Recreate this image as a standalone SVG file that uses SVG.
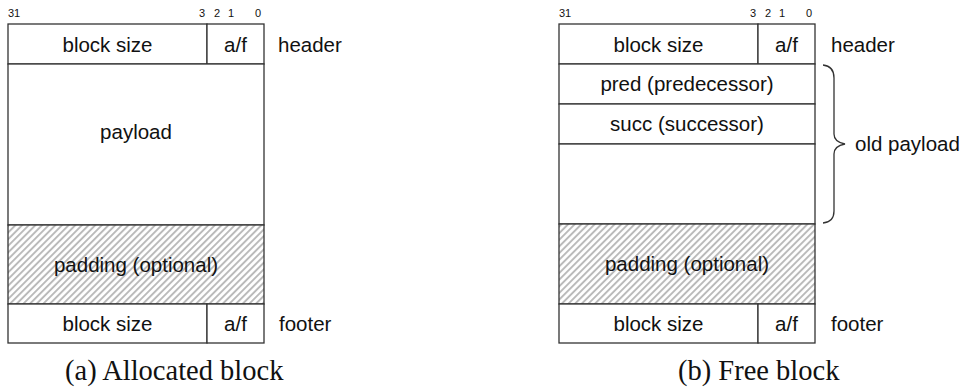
<svg xmlns="http://www.w3.org/2000/svg" width="964" height="389" viewBox="0 0 964 389">
<defs>
<pattern id="hatch" patternUnits="userSpaceOnUse" width="4.7" height="4.7" patternTransform="rotate(45)">
<rect width="4.7" height="4.7" fill="#ffffff"/>
<line x1="1" y1="0" x2="1" y2="4.7" stroke="#b8b8b8" stroke-width="1.9"/>
</pattern>
</defs>
<style>
.box{fill:#ffffff;stroke:#333333;stroke-width:1.3}
.hatch{fill:url(#hatch);stroke:#333333;stroke-width:1.3}
.t{font-family:"Liberation Sans",Arial,sans-serif;font-size:20.5px;fill:#111111;text-anchor:middle}
.l{font-family:"Liberation Sans",Arial,sans-serif;font-size:20.5px;fill:#111111}
.bit{font-family:"Liberation Sans",Arial,sans-serif;font-size:11px;fill:#111111;text-anchor:middle}
.cap{font-family:"Liberation Serif","Times New Roman",serif;font-size:28.5px;fill:#111111}
.brace{fill:none;stroke:#333333;stroke-width:1.3}
</style>
<rect width="964" height="389" fill="#ffffff"/>

<g id="allocated-block">
<g id="a-bits">
<text class="bit" x="14" y="17">31</text>
<text class="bit" x="202" y="17">3</text>
<text class="bit" x="217" y="17">2</text>
<text class="bit" x="231" y="17">1</text>
<text class="bit" x="258" y="17">0</text>
</g>
<g id="a-header">
<rect class="box" x="8" y="24" width="199" height="40"/>
<rect class="box" x="207" y="24" width="57" height="40"/>
<text class="t" x="107.5" y="51.5">block size</text>
<text class="t" x="235.5" y="51.5">a/f</text>
<text class="l" x="278" y="51.5">header</text>
</g>
<g id="a-payload">
<rect class="box" x="8" y="64" width="256" height="161"/>
<text class="t" x="136" y="139">payload</text>
</g>
<g id="a-padding">
<rect class="hatch" x="8" y="225" width="256" height="79"/>
<text class="t" x="136" y="272">padding (optional)</text>
</g>
<g id="a-footer">
<rect class="box" x="8" y="304" width="199" height="39"/>
<rect class="box" x="207" y="304" width="57" height="39"/>
<text class="t" x="107.5" y="331">block size</text>
<text class="t" x="235.5" y="331">a/f</text>
<text class="l" x="279" y="331">footer</text>
</g>
<text class="cap" x="65" y="380">(a) Allocated block</text>
</g>

<g id="free-block">
<g id="f-bits">
<text class="bit" x="565" y="17">31</text>
<text class="bit" x="753" y="17">3</text>
<text class="bit" x="768" y="17">2</text>
<text class="bit" x="782" y="17">1</text>
<text class="bit" x="809" y="17">0</text>
</g>
<g id="f-header">
<rect class="box" x="559" y="24" width="199" height="40"/>
<rect class="box" x="758" y="24" width="57" height="40"/>
<text class="t" x="658.5" y="51.5">block size</text>
<text class="t" x="786.5" y="51.5">a/f</text>
<text class="l" x="831" y="51.5">header</text>
</g>
<g id="f-pred">
<rect class="box" x="559" y="64" width="256" height="40"/>
<text class="t" x="687" y="91">pred (predecessor)</text>
</g>
<g id="f-succ">
<rect class="box" x="559" y="104" width="256" height="40"/>
<text class="t" x="687" y="131">succ (successor)</text>
</g>
<g id="f-rest">
<rect class="box" x="559" y="144" width="256" height="80"/>
</g>
<g id="f-padding">
<rect class="hatch" x="559" y="224" width="256" height="80"/>
<text class="t" x="687" y="271">padding (optional)</text>
</g>
<g id="f-footer">
<rect class="box" x="559" y="304" width="199" height="39"/>
<rect class="box" x="758" y="304" width="57" height="39"/>
<text class="t" x="658.5" y="331">block size</text>
<text class="t" x="786.5" y="331">a/f</text>
<text class="l" x="831" y="331">footer</text>
</g>
<g id="old-payload">
<path class="brace" d="M823,65 Q834,66 834,78 L834,134 Q834,142 845,144 Q834,146 834,154 L834,211 Q834,222 823,223"/>
<text class="l" x="855" y="151">old payload</text>
</g>
<text class="cap" x="678" y="380">(b) Free block</text>
</g>
</svg>
